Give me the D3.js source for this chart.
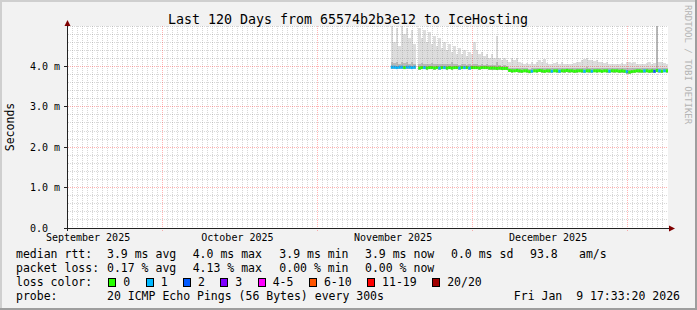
<!DOCTYPE html>
<html lang="en">
<head>
<meta charset="UTF-8">
<title>Last 120 Days from 65574b2b3e12 to IceHosting</title>
<script src="https://d3js.org/d3.v7.min.js"></script>
<style>
  body { margin: 0; background: #f2f2f2; }
  svg { display: block; }
  text { font-family: "DejaVu Sans Mono", monospace; white-space: pre; }
</style>
</head>
<body>
<script>
// time range of the graph and the data samples (one every 12 hours)
const xDomain = ["2025-09-12T00:00Z", "2026-01-10T00:00Z"];
const firstSample = "2025-11-15T18:00Z";
const stepHours = 12;

// median rtt in ms, null = no data
const median = [
  3.98,3.98,3.97,3.98,3.98,3.97,3.98,3.98,3.97,3.98,
  null,
  3.96,3.97,3.97,3.96,3.97,3.97,3.96,3.97,3.96,3.97, 3.97,3.96,3.97,3.96,3.97,3.97,3.96,3.97,3.97,3.97,
  3.96,3.97,3.97,3.97,3.96,3.97,3.97,3.97,3.96,3.96, 3.96,3.95,3.96,3.95,3.95,3.95,
  3.90,3.89,3.89,3.90,3.89,3.88,3.89,3.89,3.87,3.88, 3.89,3.89,3.90,3.89,3.88,3.89,3.89,3.88,3.89,3.89,
  3.88,3.89,3.89,3.90,3.89,3.89,3.88,3.89,3.89,3.89, 3.88,3.89,3.89,3.88,3.89,3.89,3.89,3.88,3.89,3.89,
  3.88,3.89,3.89,3.89,3.88,3.89,3.88,3.87,3.86,3.87, 3.88,3.89,3.89,3.88,3.89,3.89,3.88,3.89,3.88,3.90,
  3.89,3.88,3.89,3.89
];
// highest ping of each sample (top of the smoke)
const smokeMax = [
  5.1,4.6,4.95,4.5,5.0,4.8,4.95,4.7,4.9,4.55,
  null,
  4.95,4.7,4.9,4.6,4.85,4.55,4.75,4.5,4.7,4.45, 4.6,4.4,4.55,4.35,4.5,4.3,4.45,4.3,4.4,4.25,
  4.35,4.3,4.6,4.4,4.3,4.35,4.25,4.3,4.2,4.3, 4.2,4.75,4.2,4.15,4.2,4.15,
  4.12,4.2,4.15,4.22,4.1,4.08,4.05,4.08,4.06,4.1, 4.05,4.12,4.15,4.1,4.18,4.08,4.06,4.05,4.08,4.1,
  4.06,4.12,4.07,4.05,4.06,4.05,4.08,4.1,4.12,4.15, 4.18,4.2,4.15,4.17,4.13,4.15,4.12,4.1,4.08,4.1,
  4.06,4.05,4.07,4.05,4.06,4.08,4.06,4.1,4.12,4.08, 4.1,4.06,4.05,4.07,4.05,4.08,4.1,4.06,4.08,5.2,
  4.12,4.1,4.08,4.06
];
// top of the dense smoke near the median
const smokeMid = [
  4.1,4.08,4.12,4.06,4.1,4.08,4.1,4.07,4.1,4.06,
  null,
  4.06,4.08,4.05,4.07,4.06,4.08,4.05,4.06,4.07,4.05, 4.06,4.05,4.06,4.12,4.05,4.06,4.04,4.05,4.06,4.04,
  4.05,4.04,4.06,4.05,4.04,4.05,4.04,4.05,4.03,4.04, 4.03,4.1,4.03,4.02,4.03,4.02,
  3.97,3.96,3.96,3.97,3.95,3.95,3.96,3.95,3.94,3.95, 3.96,3.95,3.97,3.95,3.96,3.95,3.95,3.95,3.96,3.95,
  3.95,3.96,3.95,3.96,3.95,3.96,3.95,3.95,3.96,3.97, 3.97,3.98,3.96,3.97,3.96,3.96,3.95,3.96,3.95,3.96,
  3.95,3.96,3.95,3.95,3.96,3.95,3.95,3.96,3.97,3.95, 3.96,3.95,3.95,3.96,3.95,3.96,3.95,3.96,3.96,5.0,
  3.97,3.96,3.95,3.95
];
// lowest ping of each sample
const smokeMin = [
  3.94,3.94,3.93,3.94,3.94,3.93,3.94,3.94,3.93,3.94,
  null,
  3.92,3.93,3.93,3.92,3.93,3.93,3.92,3.93,3.92,3.93, 3.93,3.92,3.93,3.92,3.93,3.93,3.92,3.93,3.93,3.93,
  3.92,3.93,3.93,3.93,3.92,3.93,3.93,3.93,3.92,3.92, 3.92,3.91,3.92,3.91,3.91,3.91,
  3.85,3.84,3.85,3.85,3.84,3.84,3.85,3.84,3.83,3.84, 3.85,3.84,3.85,3.84,3.84,3.85,3.84,3.84,3.85,3.84,
  3.84,3.85,3.84,3.85,3.84,3.85,3.84,3.84,3.85,3.84, 3.84,3.85,3.84,3.84,3.85,3.84,3.85,3.84,3.85,3.84,
  3.84,3.85,3.84,3.85,3.84,3.84,3.83,3.82,3.82,3.83, 3.84,3.85,3.84,3.85,3.84,3.85,3.84,3.84,3.83,3.85,
  3.84,3.84,3.85,3.84
];
// lost pings per sample (index into lossColors)
const lossLevel = [
  1,1,1,1,1,0,1,1,1,1,
  null,
  0,0,1,0,0,0,0,0,1,0, 1,0,0,0,0,0,1,0,1,0,
  1,0,0,0,0,0,0,0,0,0, 0,0,0,0,0,0,
  0,0,0,0,0,0,0,0,0,1, 0,0,0,0,0,0,0,1,0,0,
  1,0,0,0,0,0,0,0,0,0, 1,0,0,1,0,0,0,0,0,0,
  1,0,0,0,0,0,0,1,0,0, 0,0,0,0,1,0,0,0,2,0,
  1,0,1,0
];

const lossLabels = ["0", "1", "2", "3", "4-5", "6-10", "11-19", "20/20"];
const lossColors = ["#26ff00", "#00b8ff", "#0059ff", "#7e00ff", "#ff00ff", "#ff5500", "#ff0000", "#a00000"];

const yTickValues = [0, 1, 2, 3, 4];
const yTickLabels = ["0.0", "1.0 m", "2.0 m", "3.0 m", "4.0 m"];
const majorDates = ["2025-10-01T00:00Z", "2025-11-01T00:00Z", "2025-12-02T00:00Z", "2026-01-02T00:00Z"];
const monthLabels = ["September 2025", "October 2025", "November 2025", "December 2025"];
const monthLabelDates = ["2025-09-16T05:00Z", "2025-10-16T02:00Z", "2025-11-16T05:00Z", "2025-12-17T05:00Z"];

const rttStats = ["3.9 ms avg", "4.0 ms max", "3.9 ms min", "3.9 ms now", "0.0 ms sd", "93.8", "am/s"];
const lossStats = ["0.17 % avg", "4.13 % max", "0.00 % min", "0.00 % now"];
const probeText = "20 ICMP Echo Pings (56 Bytes) every 300s";
const stampText = "Fri Jan  9 17:33:20 2026";
const title = "Last 120 Days from 65574b2b3e12 to IceHosting";

const width = 697, height = 310;
const pL = 67, pR = 667, pT = 26, pB = 228;

const svg = d3.select("body").append("svg")
  .attr("width", width)
  .attr("height", height);

// background + 3d border
svg.append("rect").attr("width", width).attr("height", height).attr("fill", "#f2f2f2");
svg.append("path").attr("d", `M0,0H${width}V2H2V${height}H0Z`).attr("fill", "#cfcfcf");
svg.append("path").attr("d", `M${width},${height}H0V${height - 2}H${width - 2}V0H${width}Z`).attr("fill", "#9e9e9e");

svg.append("rect")
  .attr("x", pL).attr("y", pT)
  .attr("width", pR - pL + 1).attr("height", pB - pT)
  .attr("fill", "#fff");

const x = d3.scaleUtc()
  .domain(xDomain.map(d => new Date(d)))
  .range([pL, pR]);
const y = d3.scaleLinear()
  .domain([0, 5])
  .range([pB, pT]);

const t0 = new Date(firstSample);
const samples = median.map((m, i) => ({
  t0: d3.utcHour.offset(t0, i * stepHours),
  t1: d3.utcHour.offset(t0, (i + 1) * stepHours),
  median: m, max: smokeMax[i], mid: smokeMid[i], min: smokeMin[i], loss: lossLevel[i]
})).filter(d => d.median != null);

svg.append("clipPath").attr("id", "plot")
  .append("rect").attr("x", pL).attr("y", pT).attr("width", pR - pL + 1).attr("height", pB - pT);

const plot = svg.append("g").attr("clip-path", "url(#plot)");

// smoke
plot.append("g").selectAll("rect")
  .data(samples)
  .join("rect")
  .attr("x", d => x(d.t0))
  .attr("width", d => x(d.t1) - x(d.t0))
  .attr("y", d => y(d.max))
  .attr("height", d => y(d.min) - y(d.max))
  .attr("fill", "#dddddd")
  .attr("shape-rendering", "crispEdges");

plot.append("g").selectAll("rect")
  .data(samples)
  .join("rect")
  .attr("x", d => x(d.t0))
  .attr("width", d => x(d.t1) - x(d.t0))
  .attr("y", d => y(d.mid))
  .attr("height", d => y(d.min) - y(d.mid))
  .attr("fill", "#b8b8b8")
  .attr("shape-rendering", "crispEdges");

// grid
const px = v => Math.round(v) + 0.5;
const grid = svg.append("g").attr("fill", "none").attr("stroke-width", 1).attr("stroke-dasharray", "1,1");
const majorTimes = majorDates.map(d => +new Date(d));

grid.selectAll(".hmin")
  .data(y.ticks(25).filter(v => !yTickValues.includes(v)))
  .join("line")
  .attr("x1", pL + 1).attr("x2", pR + 1)
  .attr("y1", d => px(y(d) - 0.5)).attr("y2", d => px(y(d) - 0.5))
  .attr("stroke", "rgba(140,140,140,0.35)");

grid.selectAll(".vmin")
  .data(d3.utcDay.range(x.domain()[0], x.domain()[1]).filter(d => !majorTimes.includes(+d) && x(d) > pL + 1))
  .join("line")
  .attr("x1", d => px(x(d))).attr("x2", d => px(x(d)))
  .attr("y1", pT).attr("y2", pB)
  .attr("stroke", "rgba(140,140,140,0.35)");

grid.selectAll(".hmaj")
  .data(yTickValues.filter(v => v > 0))
  .join("line")
  .attr("x1", pL + 1).attr("x2", pR + 1)
  .attr("y1", d => px(y(d) - 0.5)).attr("y2", d => px(y(d) - 0.5))
  .attr("stroke", "rgba(255,0,0,0.3)");

grid.selectAll(".vmaj")
  .data(majorTimes)
  .join("line")
  .attr("x1", d => px(x(d))).attr("x2", d => px(x(d)))
  .attr("y1", pT).attr("y2", pB + 3)
  .attr("stroke", "rgba(255,0,0,0.3)");

// median line coloured by loss
plot.append("g").selectAll("line")
  .data(samples)
  .join("line")
  .attr("x1", d => x(d.t0))
  .attr("x2", d => x(d.t1))
  .attr("y1", d => y(d.median))
  .attr("y2", d => y(d.median))
  .attr("stroke", d => lossColors[d.loss])
  .attr("stroke-width", 3);

// axes
const axisColor = "#222";
svg.append("line").attr("x1", pL + 0.5).attr("x2", pL + 0.5).attr("y1", pB + 3).attr("y2", pT - 4)
  .attr("stroke", axisColor);
svg.append("line").attr("x1", pL - 3).attr("x2", pR + 3).attr("y1", pB + 0.5).attr("y2", pB + 0.5)
  .attr("stroke", axisColor);
svg.append("path").attr("d", `M${pL - 2.5},${pT}L${pL + 3.5},${pT}L${pL + 0.5},${pT - 6}Z`).attr("fill", "#7f0000");
svg.append("path").attr("d", `M${pR + 2},${pB - 2.5}L${pR + 2},${pB + 3.5}L${pR + 8},${pB + 0.5}Z`).attr("fill", "#7f0000");

svg.append("g").selectAll("line")
  .data(yTickValues.filter(v => v > 0))
  .join("line")
  .attr("x1", pL - 3).attr("x2", pL)
  .attr("y1", d => px(y(d) - 0.5)).attr("y2", d => px(y(d) - 0.5))
  .attr("stroke", axisColor);

svg.append("g").selectAll("text")
  .data(yTickValues)
  .join("text")
  .attr("x", 30)
  .attr("y", d => y(d) + 3.5)
  .attr("font-size", 10)
  .text((d, i) => yTickLabels[i]);

svg.append("g").selectAll("text")
  .data(monthLabelDates)
  .join("text")
  .attr("x", d => x(new Date(d)))
  .attr("y", 241)
  .attr("text-anchor", "middle")
  .attr("font-size", 10)
  .text((d, i) => monthLabels[i]);

svg.append("text")
  .attr("transform", "translate(13.5,127) rotate(-90)")
  .attr("text-anchor", "middle")
  .attr("font-size", 11.5)
  .text("Seconds");

svg.append("text")
  .attr("x", 348).attr("y", 24)
  .attr("text-anchor", "middle")
  .attr("font-size", 13.3)
  .text(title);

svg.append("text")
  .attr("transform", `translate(${width - 12.5},5) rotate(90)`)
  .attr("font-size", 9)
  .attr("fill", "#b4b4b4")
  .text("RRDTOOL / TOBI OETIKER");

// legend
const legend = svg.append("g").attr("font-size", 11.5);
const statX = [107, 192.7, 279.3, 365, 451, 530, 579];
legend.append("text").attr("x", 16).attr("y", 258).text("median rtt:");
rttStats.forEach((s, i) => legend.append("text").attr("x", statX[i]).attr("y", 258).text(s));
legend.append("text").attr("x", 16).attr("y", 272).text("packet loss:");
lossStats.forEach((s, i) => legend.append("text").attr("x", statX[i]).attr("y", 272).text(s));
legend.append("text").attr("x", 16).attr("y", 286).text("loss color:");

const charW = 6.94;
let cursor = 108.3;
lossLabels.forEach((lab, i) => {
  legend.append("rect")
    .attr("x", Math.round(cursor) + 0.5).attr("y", 278.5)
    .attr("width", 7).attr("height", 8)
    .attr("fill", lossColors[i]).attr("stroke", "#000");
  legend.append("text").attr("x", cursor + 15).attr("y", 286).text(lab);
  cursor += 15 + lab.length * charW + 15.4;
});

legend.append("text").attr("x", 16).attr("y", 300).text("probe:");
legend.append("text").attr("x", 107).attr("y", 300).text(probeText);
legend.append("text").attr("x", 680).attr("y", 300).attr("text-anchor", "end").text(stampText);
</script>
</body>
</html>
